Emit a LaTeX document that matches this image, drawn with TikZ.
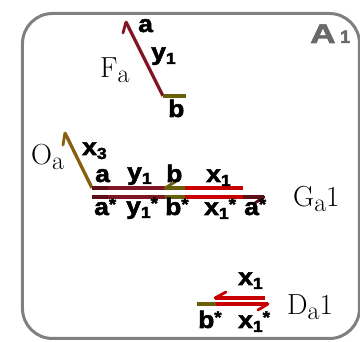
\documentclass[tikz,border=0pt]{standalone}
\usepackage{fontspec}
\setsansfont{Liberation Sans}
\newfontfamily\heavyfont[BoldFeatures={FakeBold=2.2}]{Liberation Sans}
\definecolor{strandA}{RGB}{90,15,25}
\definecolor{strandY}{RGB}{128,22,36}
\definecolor{strandB}{RGB}{105,95,10}
\definecolor{strandX}{RGB}{200,0,0}
\definecolor{strandO}{RGB}{135,95,15}
\definecolor{framegray}{RGB}{128,128,128}
\definecolor{titlegray}{RGB}{105,105,105}
\newcommand\mysub[1]{{\fontsize{16}{16}\selectfont\raisebox{-4pt}{#1}}}
\newcommand\myst{{\fontsize{17}{17}\selectfont\raisebox{5pt}{*}}}
\newcommand\mysubl[1]{{\fontsize{26}{26}\selectfont\raisebox{-5pt}{#1}}}
\tikzset{
  lab/.style={font=\fontsize{24}{24}\selectfont\heavyfont\bfseries, inner sep=0pt, anchor=base west, xscale=1.1},
  slab/.style={font=\fontsize{29}{29}\selectfont, inner sep=0pt, anchor=base west},
  seg/.style={line width=3.3pt, line cap=butt},
  barb/.style={line width=2.8pt, line cap=round},
}
\begin{document}
\begin{tikzpicture}[x=1pt,y=-1pt]
\useasboundingbox (0,0) rectangle (360,342);
% frame
\node[draw=framegray, line width=3pt, rounded corners=30pt, minimum width=337pt, minimum height=325pt, inner sep=0pt, anchor=north west] (frame) at (21,12) {};
\node[font=\fontsize{27}{27}\selectfont\heavyfont\bfseries, text=titlegray, inner sep=0pt, anchor=base west, xscale=1.3] (title) at (310,43) {A};
\node[font=\fontsize{18}{18}\selectfont\heavyfont\bfseries, text=titlegray, inner sep=0pt, anchor=base west] (titlesub) at (340,43) {1};

% ---- Fa ----
\coordinate (fa) at (126,22);
\coordinate (fab) at (123,33);
\coordinate (fb) at (163,96);
\coordinate (fbe) at (186,96);
\draw[seg, strandY] (fb) -- (fa);
\draw[barb, strandY] (fa) -- (fab);
\draw[seg, strandB] (fb) -- (fbe);
\node[lab] (la) at (138,32) {a};
\node[lab] (ly) at (151,60) {y\mysub{1}};
\node[lab] (lb) at (168,117) {b};
\node[slab] (lF) at (100,78) {F\mysubl{a}};

% ---- Oa / Ga1 ----
\coordinate (oa) at (65,133);
\coordinate (oab) at (63,145);
\coordinate (u0) at (92,188);
\coordinate (u1) at (108,188);
\coordinate (u2) at (165,188);
\coordinate (u2b) at (175,182);
\coordinate (u3) at (185,188);
\coordinate (u4) at (243,188);
\coordinate (l0) at (92,197);
\coordinate (l1) at (108,197);
\coordinate (l2) at (165,197);
\coordinate (l3) at (185,197);
\coordinate (l4) at (243,197);
\coordinate (l5) at (264,197);
\coordinate (l5b) at (255,203);
\draw[seg, strandO] (u0) -- (oa);
\draw[barb, strandO] (oa) -- (oab);
\draw[seg, strandA] (u0) -- (u1);
\draw[seg, strandY] (u1) -- (u2);
\draw[seg, strandB] (u2) -- (u3);
\draw[barb, strandB] (u2) -- (u2b);
\draw[seg, strandX] (u3) -- (u4);
\draw[seg, strandA] (l0) -- (l1);
\draw[seg, strandY] (l1) -- (l2);
\draw[seg, strandB] (l2) -- (l3);
\draw[seg, strandX] (l3) -- (l4);
\draw[seg, strandA] (l4) -- (l5);
\draw[barb, strandA] (l5) -- (l5b);
\node[slab] (lO) at (31,165) {O\mysubl{a}};
\node[lab] (lx3) at (82,155) {x\mysub{3}};
\node[lab] (lua) at (95,182) {a};
\node[lab] (luy) at (127,180) {y\mysub{1}};
\node[lab] (lub) at (166,182) {b};
\node[lab] (lux) at (206,182) {x\mysub{1}};
\node[lab] (lla) at (94,215) {a\myst};
\node[lab] (lly) at (126,214) {y\mysub{1}\myst};
\node[lab] (llb) at (165,215) {b\myst};
\node[lab] (llx) at (204,215) {x\mysub{1}\myst};
\node[lab] (lla2) at (244,215) {a\myst};
\node[slab] (lG) at (293,207) {G\mysubl{a}1};

% ---- Da1 ----
\coordinate (d0) at (265,298);
\coordinate (d1) at (215,298);
\coordinate (d1b) at (226,292);
\coordinate (e0) at (197,304);
\coordinate (e1) at (216,304);
\coordinate (e2) at (268,304);
\coordinate (e2b) at (258,310);
\draw[seg, strandX] (d0) -- (d1);
\draw[barb, strandX] (d1) -- (d1b);
\draw[seg, strandB] (e0) -- (e1);
\draw[seg, strandX] (e1) -- (e2);
\draw[barb, strandX] (e2) -- (e2b);
\node[lab] (ldx) at (238,285) {x\mysub{1}};
\node[lab] (ldb) at (198,328) {b\myst};
\node[lab] (ldx2) at (238,328) {x\mysub{1}\myst};
\node[slab] (lD) at (287,315) {D\mysubl{a}1};
\end{tikzpicture}
\end{document}
